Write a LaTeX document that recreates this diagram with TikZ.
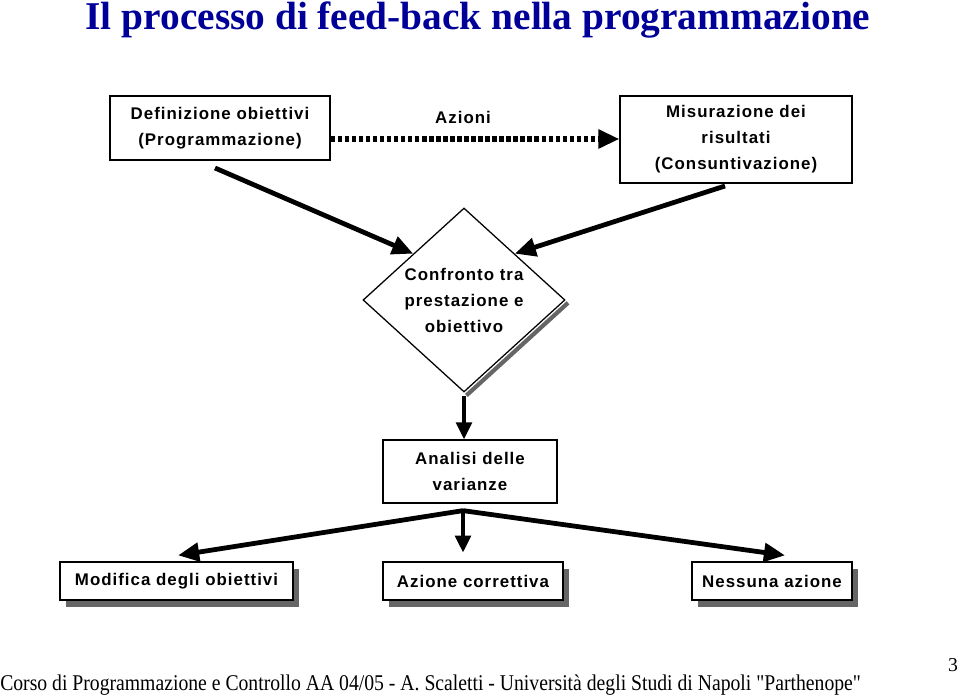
\documentclass[tikz,border=0pt]{standalone}
\usepackage{fontspec}
\setmainfont{Liberation Serif}
\newfontfamily\boxfont[LetterSpace=6]{Liberation Sans}
\usepackage{graphicx}
\usepackage{xcolor}
\definecolor{titleblue}{RGB}{0,0,153}
\definecolor{shadowgray}{RGB}{102,102,102}
\usetikzlibrary{arrows.meta, positioning, shapes.geometric, shadows, calc}

\begin{document}
\begin{tikzpicture}[
  box/.style={draw=black, line width=0.9pt, fill=white, align=center, inner sep=0pt,
              font=\boxfont\bfseries\fontsize{12}{18.5}\selectfont},
  shadowbox/.style={box, drop shadow={shadow xshift=0.15cm, shadow yshift=-0.17cm,
              fill=shadowgray, opacity=1}},
  bigarrow/.style={line width=3.4pt, -{Triangle[length=15pt, width=13pt]}},
  midarrow/.style={line width=2.8pt, -{Triangle[length=12pt, width=11pt]}}
]
\useasboundingbox (0,0) rectangle (24,17.375);

% ===== TITLE =====
\node[font=\fontsize{28}{30}\selectfont\bfseries, text=titleblue, anchor=base, inner sep=0pt]
  (title) at (11.95,16.625) {Il processo di feed-back nella programmazione};

% ===== TOP ROW =====
\node[box, minimum width=5.5cm, minimum height=1.6cm] (def) at (5.5,14.175)
  {Definizione obiettivi\\(Programmazione)};
\node[box, minimum width=5.8cm, minimum height=2.175cm] (mis) at (18.4,13.8875)
  {Misurazione dei\\risultati\\(Consuntivazione)};
\node[font=\boxfont\bfseries\fontsize{12}{14}\selectfont] (azi) at (11.575,14.45) {Azioni};

% Actions (dotted)
\draw[line width=3.6pt, dash pattern=on 3.2pt off 1.8pt, -{Triangle[length=15pt, width=13pt]}]
  ([yshift=-0.275cm]def.east) -- ([yshift=-0.275cm]def.east -| mis.west);

% ===== COMPARISON =====
\node[draw=black, line width=0.9pt, diamond, aspect=1.1, minimum width=5.05cm,
      minimum height=4.6cm, inner sep=0pt, align=center,
      font=\boxfont\bfseries\fontsize{12}{18.5}\selectfont] (conf) at (11.6,9.875)
  {Confronto tra\\prestazione e\\obiettivo};
\draw[shadowgray, line width=3pt] ([shift={(0.06,-0.07)}]conf.east) -- ([shift={(0.06,-0.07)}]conf.south);

\coordinate (defout) at (5.375,13.175);
\coordinate (misout) at (18.125,12.725);
\draw[bigarrow] (defout) -- ($(conf.north)!0.5!(conf.west)$);
\draw[bigarrow] (misout) -- ($(conf.north)!0.5!(conf.east)$);

% ===== VARIANCE =====
\node[box, minimum width=4.35cm, minimum height=1.575cm] (ana) at (11.75,5.5875)
  {Analisi delle\\varianze};
\draw[midarrow] ([yshift=-0.08cm]conf.south) -- (conf.south |- ana.north);

% ===== OUTCOMES =====
\node[shadowbox, minimum width=5.825cm, minimum height=0.95cm] (mod) at (4.4125,2.85)
  {Modifica degli obiettivi};
\node[shadowbox, minimum width=4.5cm, minimum height=0.95cm] (cor) at (11.825,2.85)
  {Azione correttiva};
\node[shadowbox, minimum width=4.0cm, minimum height=0.95cm] (nes) at (19.3,2.85)
  {Nessuna azione};

\coordinate (split) at ($(ana.south)+(-0.175,-0.175)$);
\draw[bigarrow] (split) -- ([xshift=0.04cm, yshift=0.15cm]mod.north);
\draw[midarrow] (split) -- ([xshift=-0.25cm, yshift=0.22cm]cor.north);
\draw[bigarrow] (split) -- ([xshift=0.325cm, yshift=0.15cm]nes.north);

% ===== FOOTER =====
\node[font=\fontsize{16}{18}\selectfont, anchor=base west, inner sep=0pt] (foot) at (0,0.125)
  {\scalebox{0.875}[1]{Corso di Programmazione e Controllo AA 04/05 - A. Scaletti - Università degli Studi di Napoli \textquotedbl Parthenope\textquotedbl}};
\node[font=\fontsize{14}{16}\selectfont] (pnum) at (23.825,0.75) {3};

\end{tikzpicture}
\end{document}
